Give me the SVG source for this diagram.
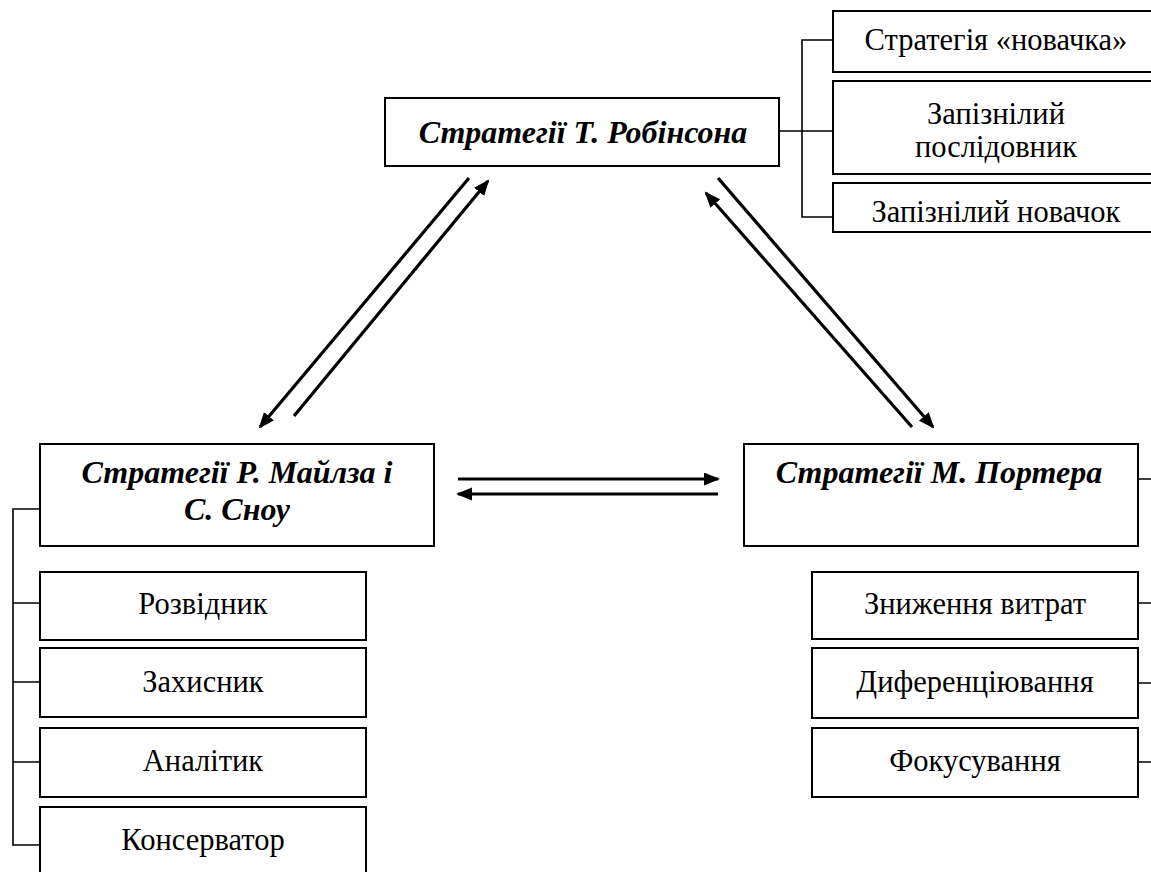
<svg xmlns="http://www.w3.org/2000/svg" width="1151" height="872" viewBox="0 0 1151 872">
<defs>
<style>
.box{fill:#fff;stroke:#000;stroke-width:2}
.t{font-family:"Liberation Serif","DejaVu Serif",serif;font-size:30.5px;text-anchor:middle;fill:#000}
.h{font-family:"Liberation Serif","DejaVu Serif",serif;font-size:32px;font-weight:bold;font-style:italic;text-anchor:middle;fill:#000}
.br{fill:none;stroke:#000;stroke-width:1.6}
.ar{fill:none;stroke:#000;stroke-width:3.2}
</style>
<marker id="ah" markerUnits="userSpaceOnUse" markerWidth="18" markerHeight="14" refX="14" refY="6.5" orient="auto">
<path d="M0,0 L16,6.5 L0,13 z" fill="#000"/>
</marker>
</defs>
<rect width="1151" height="872" fill="#fff"/>
<g id="connectors">
<path class="br" d="M779,131 H833 M833,40 H802 V217 H833"/>
<path class="br" d="M40,509 H13 V845 H40 M13,603 H40 M13,682 H40 M13,762 H40"/>
<path class="br" d="M1138,479 H1151 M1138,603 H1151 M1138,683 H1151 M1138,762 H1151"/>
<line class="ar" x1="469" y1="178" x2="260" y2="427" marker-end="url(#ah)"/>
<line class="ar" x1="294" y1="416" x2="488" y2="181" marker-end="url(#ah)"/>
<line class="ar" x1="718" y1="178" x2="933" y2="427" marker-end="url(#ah)"/>
<line class="ar" x1="912" y1="427" x2="706" y2="193" marker-end="url(#ah)"/>
<line class="ar" x1="458" y1="479" x2="718" y2="479" marker-end="url(#ah)"/>
<line class="ar" x1="718" y1="494" x2="458" y2="494" marker-end="url(#ah)"/>
</g>
<g id="robinson"><rect class="box" x="385" y="98" width="394" height="68"/><text class="h" x="583" y="143">Стратегії Т. Робінсона</text></g>
<g id="r1"><rect class="box" x="833" y="11" width="330" height="61"/><text class="t" x="996" y="50">Стратегія «новачка»</text></g>
<g id="r2"><rect class="box" x="833" y="81" width="330" height="93"/><text class="t" x="996" y="124">Запізнілий</text><text class="t" x="996" y="157">послідовник</text></g>
<g id="r3"><rect class="box" x="833" y="183" width="330" height="49"/><text class="t" x="996" y="222">Запізнілий новачок</text></g>
<g id="miles"><rect class="box" x="40" y="444" width="394" height="102"/><text class="h" x="237" y="483">Стратегії Р. Майлза і</text><text class="h" x="237" y="520">С. Сноу</text></g>
<g id="porter"><rect class="box" x="744" y="444" width="394" height="102"/><text class="h" x="939" y="483">Стратегії М. Портера</text></g>
<g id="m1"><rect class="box" x="40" y="572" width="326" height="68"/><text class="t" x="203" y="614">Розвідник</text></g>
<g id="m2"><rect class="box" x="40" y="648" width="326" height="69"/><text class="t" x="203" y="692">Захисник</text></g>
<g id="m3"><rect class="box" x="40" y="728" width="326" height="69"/><text class="t" x="203" y="771">Аналітик</text></g>
<g id="m4"><rect class="box" x="40" y="807" width="326" height="80"/><text class="t" x="203" y="850">Консерватор</text></g>
<g id="p1"><rect class="box" x="812" y="572" width="326" height="67"/><text class="t" x="975" y="614">Зниження витрат</text></g>
<g id="p2"><rect class="box" x="812" y="648" width="326" height="70"/><text class="t" x="975" y="692">Диференціювання</text></g>
<g id="p3"><rect class="box" x="812" y="728" width="326" height="69"/><text class="t" x="975" y="771">Фокусування</text></g>
</svg>
